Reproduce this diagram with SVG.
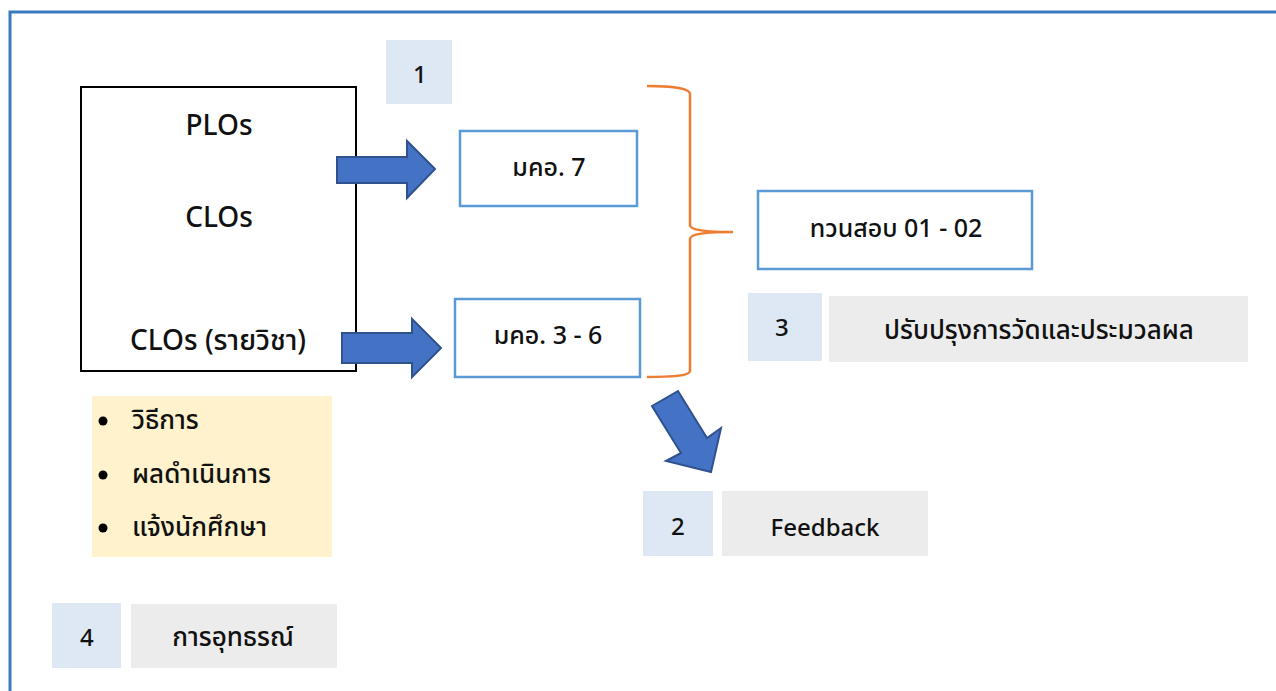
<svg xmlns="http://www.w3.org/2000/svg" width="1276" height="691" viewBox="0 0 1276 691">
<style>
text{font-family:"Noto Sans","Noto Sans Thai","Leelawadee UI",Tahoma,"DejaVu Sans",sans-serif;fill:#111;font-weight:500;}
.big{font-size:28px;}
.mid{font-size:25px;}
.num{font-size:24px;}
.th{font-size:26px;}
.box{fill:#fff;stroke:#5b9bd5;stroke-width:2.5;}
.tag{fill:#dde8f4;}
.grey{fill:#ececec;}
.arr{fill:#4472c4;stroke:#2f528f;stroke-width:2;stroke-linejoin:miter;}
</style>
<rect x="0" y="0" width="1276" height="691" fill="#fff"/>
<path d="M10,691 V12 H1276" fill="none" stroke="#3a7bbf" stroke-width="3"/>

<g id="source">
<rect x="81" y="87" width="275" height="284" fill="#fff" stroke="#000" stroke-width="2"/>
<text x="219" y="135" text-anchor="middle" class="big">PLOs</text>
<text x="219" y="227" text-anchor="middle" class="big">CLOs</text>
<text x="218" y="350" text-anchor="middle" class="big">CLOs (รายวิชา)</text>
</g>

<g id="tag1"><rect x="386" y="40" width="66" height="64" class="tag"/><text x="413" y="83" class="num">1</text></g>

<g id="mko7"><rect x="460" y="131" width="177" height="75" class="box"/><text x="549" y="176" text-anchor="middle" class="mid">มคอ. 7</text></g>
<g id="mko36"><rect x="455" y="299" width="185" height="78" class="box"/><text x="548" y="344" text-anchor="middle" class="mid">มคอ. 3 - 6</text></g>

<g id="review"><rect x="758" y="191" width="274" height="78" class="box"/><text x="896" y="237" text-anchor="middle" class="mid">ทวนสอบ 01 - 02</text></g>

<g id="tag3"><rect x="748" y="293" width="74" height="68" class="tag"/><text x="775" y="336" class="num">3</text></g>
<g id="improve"><rect x="829" y="296" width="419" height="66" class="grey"/><text x="1039" y="339" text-anchor="middle" class="th">ปรับปรุงการวัดและประมวลผล</text></g>

<g id="tag2"><rect x="643" y="491" width="70" height="65" class="tag"/><text x="671" y="535" class="num">2</text></g>
<g id="feedback"><rect x="722" y="491" width="206" height="65" class="grey"/><text x="825" y="536" text-anchor="middle" class="num">Feedback</text></g>

<g id="tag4"><rect x="52" y="603" width="69" height="65" class="tag"/><text x="80" y="646" class="num">4</text></g>
<g id="appeal"><rect x="131" y="604" width="206" height="64" class="grey"/><text x="233" y="646" text-anchor="middle" class="th">การอุทธรณ์</text></g>

<g id="list">
<rect x="92" y="396" width="240" height="161" fill="#fff2cc"/>
<circle cx="103" cy="421" r="4.5" fill="#000"/>
<circle cx="103" cy="475" r="4.5" fill="#000"/>
<circle cx="103" cy="528" r="4.5" fill="#000"/>
<text x="132" y="429" class="th">วิธีการ</text>
<text x="132" y="483" class="th">ผลดำเนินการ</text>
<text x="132" y="536" class="th">แจ้งนักศึกษา</text>
</g>

<g id="connectors">
<path class="arr" d="M337,157 H407 V141 L435,169 L407,198 V183 H337 Z"/>
<path class="arr" d="M342,333 H412 V319 L441,348 L412,377 V363 H342 Z"/>
<path class="arr" d="M652,406 L678,391 L707,438 L721,428 L711,472 L666,461 L681,453 Z"/>
<path d="M647,86 C670,86 690,88 690,94 V225 C690,230 705,232 733,232 C705,232 690,234 690,239 V371 C690,376 670,377 647,377" fill="none" stroke="#ed7d31" stroke-width="2.5"/>
</g>
</svg>
